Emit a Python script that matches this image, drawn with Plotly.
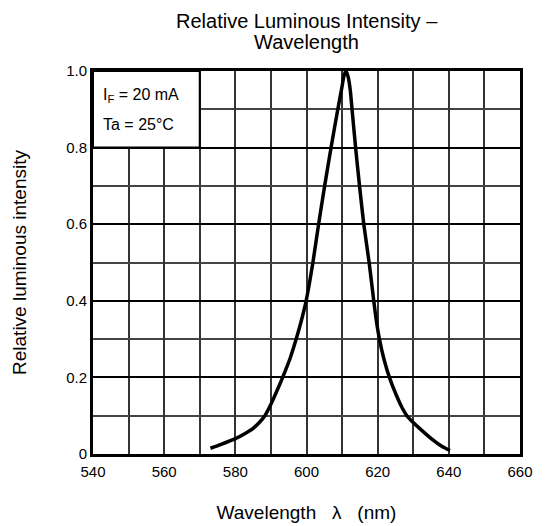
import plotly.graph_objects as go

# Data
wavelength_nm = [573, 576, 580, 583, 585, 587, 588.3, 590, 591.7, 593.3, 595.4, 597.1, 598.6,
                 599.9, 601.8, 603.4, 605.1, 606.9, 608.8, 610, 610.6, 611.1, 611.7, 612.3,
                 612.8, 613.8, 614.9, 616.1, 617.6, 618.9, 619.6, 620.5, 621.7, 623.3, 625.4,
                 626.9, 628.2, 629.7, 632, 635.6, 638, 640.3]
relative_intensity = [0.015, 0.025, 0.04, 0.055, 0.067, 0.085, 0.1, 0.13, 0.165, 0.2, 0.25,
                      0.3, 0.35, 0.4, 0.5, 0.6, 0.7, 0.8, 0.9, 0.96, 0.99, 1.0, 0.985, 0.95,
                      0.9, 0.8, 0.7, 0.6, 0.5, 0.4, 0.35, 0.3, 0.25, 0.2, 0.15,
                      0.12, 0.1, 0.085, 0.065, 0.036, 0.02, 0.009]
x_tick_vals = [540, 560, 580, 600, 620, 640, 660]
x_tick_text = ["540", "560", "580", "600", "620", "640", "660"]
y_tick_vals = [0, 0.2, 0.4, 0.6, 0.8, 1.0]
y_tick_text = ["0", "0.2", "0.4", "0.6", "0.8", "1.0"]
title_lines = ["Relative Luminous Intensity –", "Wavelength"]

FONT = "Liberation Sans, Arial, Helvetica, sans-serif"

W, H = 537, 518          # page adds an 8px body margin
ML, MR, MT, MB = 85, 25, 63, 72
PH = H - MT - MB

fig = go.Figure()
fig.add_trace(go.Scatter(
    x=wavelength_nm, y=relative_intensity, mode="lines",
    line=dict(color="black", width=3.5, shape="spline", smoothing=0.6),
    showlegend=False, hoverinfo="skip"))

# condition box
fig.add_shape(type="rect", xref="x", yref="y", x0=540, x1=570, y0=0.8, y1=1.0,
              fillcolor="white", line=dict(color="black", width=2), layer="above")
fig.add_annotation(x=542.3, y=0.935, xref="x", yref="y", xanchor="left", yanchor="middle",
                   text="I<sub>F</sub> = 20 mA", showarrow=False,
                   font=dict(family=FONT, size=16, color="black"))
fig.add_annotation(x=542.3, y=0.86, xref="x", yref="y", xanchor="left", yanchor="middle",
                   text="Ta = 25°C", showarrow=False,
                   font=dict(family=FONT, size=16, color="black"))

# title (two lines) as annotations, centres at figure y = 13 and 34
for line_text, fy in zip(title_lines, [13, 34]):
    fig.add_annotation(x=0.5, y=1 + (MT - fy) / PH, xref="paper", yref="paper",
                       xanchor="center", yanchor="middle",
                       text=line_text, showarrow=False,
                       font=dict(family=FONT, size=20, color="black"))

fig.update_layout(
    width=W, height=H,
    margin=dict(l=ML, r=MR, t=MT, b=MB, autoexpand=False),
    paper_bgcolor="white", plot_bgcolor="white",
    font=dict(family=FONT, size=15, color="black"),
)
fig.update_xaxes(
    range=[540, 660], tickvals=x_tick_vals, ticktext=x_tick_text,
    showgrid=True, gridcolor="#333333", gridwidth=1.5,
    minor=dict(dtick=10, tick0=540, showgrid=True, gridcolor="#333333", gridwidth=1.5),
    showline=True, linecolor="black", linewidth=3, mirror=True,
    ticks="", ticklabelstandoff=2, zeroline=False, automargin=False,
    tickfont=dict(family=FONT, size=15, color="black"),
    title=dict(text="Wavelength   λ   (nm)", standoff=27,
               font=dict(family=FONT, size=19, color="black")),
)
fig.update_yaxes(
    range=[0, 1.0], tickvals=y_tick_vals, ticktext=y_tick_text,
    showgrid=True, gridcolor="black", gridwidth=2,
    minor=dict(dtick=0.1, tick0=0, showgrid=True, gridcolor="#444444", gridwidth=1.5),
    showline=True, linecolor="black", linewidth=3, mirror=True,
    ticks="", zeroline=False, automargin=False,
    tickfont=dict(family=FONT, size=15, color="black"),
    title=dict(text="Relative luminous intensity", standoff=35,
               font=dict(family=FONT, size=19, color="black")),
)

fig.write_html("out.html")
